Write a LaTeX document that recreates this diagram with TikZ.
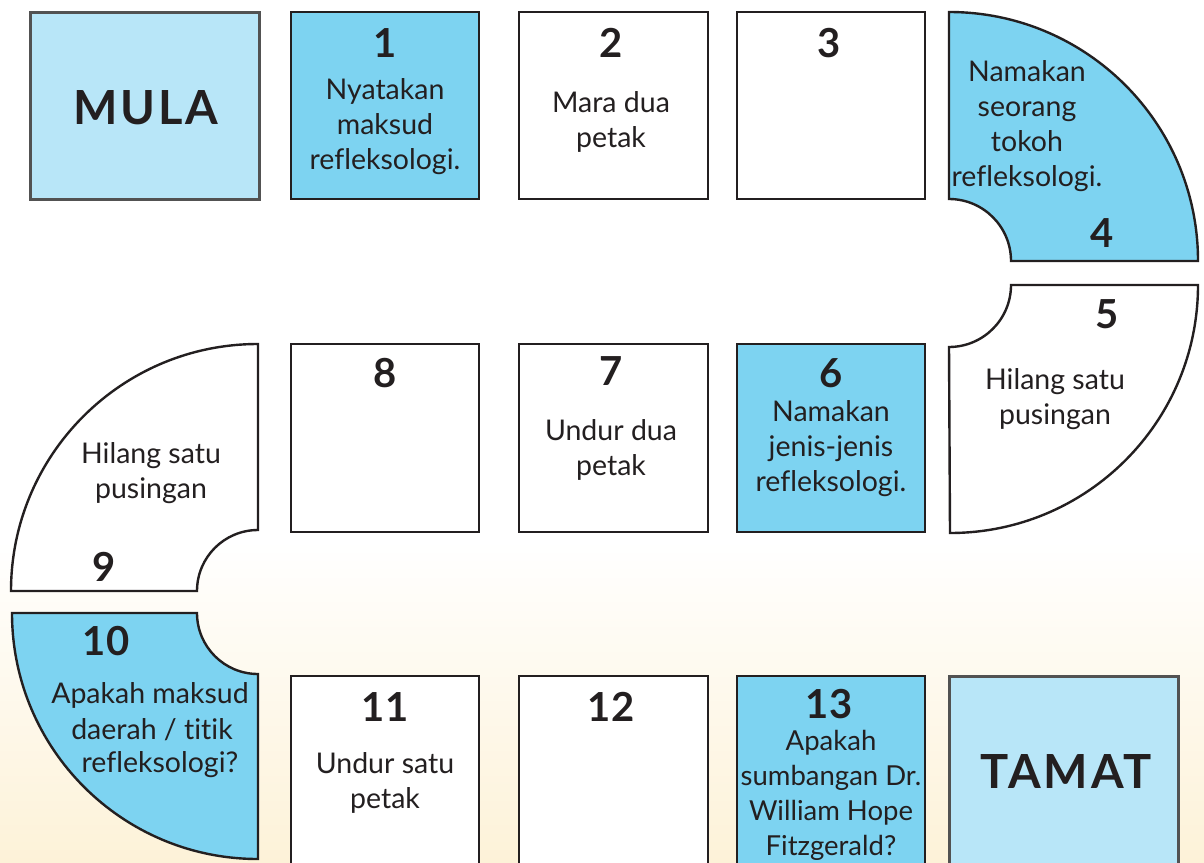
\documentclass[tikz,border=0pt]{standalone}
\usepackage{fontspec}
\setmainfont[Ligatures=NoCommon]{Lato}
\newfontfamily\numfont{Lato}
\newfontfamily\handfont[LetterSpace=6]{Lato}
\definecolor{qblue}{HTML}{7DD3F1}
\definecolor{lblue}{HTML}{B8E6F8}
\definecolor{ink}{HTML}{231F20}
\definecolor{cream}{HTML}{FDF2D8}
\tikzset{
  tile/.style={draw=ink, line width=2.4pt, line join=miter},
  endtile/.style={draw=black!68, line width=3pt, fill=lblue},
  txt/.style={text=ink, font=\fontsize{28.5}{35}\selectfont, align=center, inner sep=0pt},
  num/.style={text=ink, font=\numfont\bfseries\fontsize{40}{40}\selectfont, inner sep=0pt},
  big/.style={text=ink, font=\handfont\bfseries\fontsize{47}{47}\selectfont, inner sep=0pt}
}
\begin{document}
\begin{tikzpicture}[x=1pt,y=-1pt]
\useasboundingbox (0,0) rectangle (1204,862);
\clip (0,0) rectangle (1204,862);
\fill[white] (0,0) rectangle (1204,862);
\shade[top color=white, bottom color=cream] (0,540) rectangle (1204,862);
% row 1
\draw[endtile] (30,12) rectangle (259,199);
\draw[tile, fill=qblue] (291,12) rectangle (479,199);
\draw[tile, fill=white] (519,12) rectangle (708,199);
\draw[tile, fill=white] (737,12) rectangle (925,199);
% shape 4
\draw[tile, fill=qblue] (949,12) arc[start angle=270, end angle=360, radius=249]
  -- (1011,261) arc[start angle=0, end angle=-90, radius=62] -- cycle;
% shape 5
\draw[tile, fill=white] (1198,285) arc[start angle=0, end angle=90, radius=248]
  -- (949,347) arc[start angle=90, end angle=0, radius=62] -- cycle;
% row 2
\draw[tile, fill=white] (291,344) rectangle (479,532);
\draw[tile, fill=white] (519,344) rectangle (708,532);
\draw[tile, fill=qblue] (737,344) rectangle (925,532);
% shape 9
\draw[tile, fill=white] (258,344) arc[start angle=270, end angle=180, radius=247]
  -- (197,591) arc[start angle=180, end angle=270, radius=61] -- cycle;
% shape 10
\draw[tile, fill=qblue] (12,613) arc[start angle=180, end angle=90, radius=246]
  -- (258,674) arc[start angle=90, end angle=180, radius=61] -- cycle;
% row 3
\draw[tile, fill=white] (291,676) rectangle (479,880);
\draw[tile, fill=white] (519,676) rectangle (708,880);
\draw[tile, fill=qblue] (737,676) rectangle (925,880);
\draw[endtile] (949,676) rectangle (1178,880);
% texts
\node[big] (mula) at (146,108) {MULA};
\node[big] (tamat) at (1066,771) {TAMAT};
\node[num] (n1) at (385,43) {1};
\node[txt] (t1) at (385,127) {Nyatakan\\maksud\\refleksologi.};
\node[num] (n2) at (611,43) {2};
\node[txt] (t2) at (611,122) {Mara dua\\petak};
\node[num] (n3) at (829,43) {3};
\node[txt] (t4) at (1027,126) {Namakan\\seorang\\tokoh\\refleksologi.};
\node[num] (n4) at (1102,233) {4};
\node[num] (n5) at (1107,314) {5};
\node[txt] (t5) at (1055,399) {Hilang satu\\pusingan};
\node[num] (n6) at (831,373) {6};
\node[txt] (t6) at (831,449) {Namakan\\jenis-jenis\\refleksologi.};
\node[num] (n7) at (611,371) {7};
\node[txt] (t7) at (611,450) {Undur dua\\petak};
\node[num] (n8) at (385,373) {8};
\node[txt] (t9) at (151,473) {Hilang satu\\pusingan};
\node[num] (n9) at (104,567) {9};
\node[num] (n10) at (106,641) {10};
\node[txt] (t10a) at (150,695) {Apakah maksud};
\node[txt] (t10b) at (152,730) {daerah / titik};
\node[txt] (t10c) at (160,765) {refleksologi?};
\node[num] (n11) at (385,707) {11};
\node[txt] (t11) at (385,783) {Undur satu\\petak};
\node[num] (n12) at (611,707) {12};
\node[num] (n13) at (829,704) {13};
\node[txt, font=\fontsize{27.5}{35}\selectfont] (t13) at (831,795) {Apakah\\sumbangan Dr.\\William Hope\\Fitzgerald?};
\end{tikzpicture}
\end{document}
